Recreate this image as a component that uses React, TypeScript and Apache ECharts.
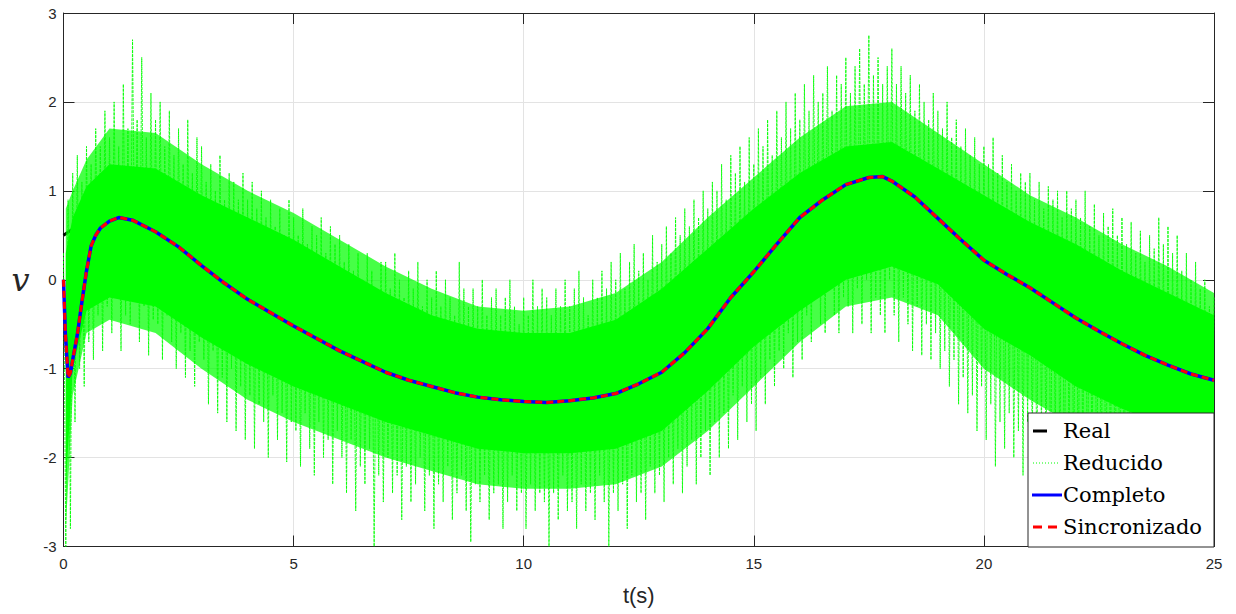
import React, { useEffect, useRef } from "react";
import * as echarts from "echarts";

// ---- data ----
const xTicks = [0, 5, 10, 15, 20, 25];
const yTicks = [-3, -2, -1, 0, 1, 2, 3];

const curveT = [0, 0.04, 0.1, 0.15, 0.2, 0.3, 0.4, 0.5, 0.6, 0.7, 0.8, 1.0, 1.2, 1.5, 2.0, 2.5, 3.0, 3.5, 4.0, 4.5, 5.0, 5.5, 6.0, 6.5, 7.0, 7.5, 8.0, 8.5, 9.0, 9.5, 10.0, 10.5, 11.0, 11.5, 12.0, 12.5, 13.0, 13.5, 14.0, 14.5, 15.0, 15.5, 16.0, 16.5, 17.0, 17.5, 17.8, 18.0, 18.5, 19.0, 19.5, 20.0, 20.5, 21.0, 21.5, 22.0, 22.5, 23.0, 23.5, 24.0, 24.5, 25.0];
const completoV = [0, -0.6, -1.1, -1.05, -0.9, -0.62, -0.25, 0.1, 0.38, 0.5, 0.58, 0.66, 0.7, 0.67, 0.54, 0.37, 0.16, -0.04, -0.22, -0.37, -0.52, -0.66, -0.8, -0.92, -1.04, -1.13, -1.2, -1.27, -1.32, -1.35, -1.37, -1.38, -1.36, -1.33, -1.28, -1.17, -1.04, -0.82, -0.55, -0.2, 0.09, 0.4, 0.7, 0.9, 1.07, 1.15, 1.16, 1.11, 0.93, 0.69, 0.45, 0.22, 0.06, -0.09, -0.26, -0.43, -0.58, -0.72, -0.85, -0.96, -1.06, -1.13];
const sincronizadoV = [0, -0.6, -1.1, -1.05, -0.9, -0.62, -0.25, 0.1, 0.38, 0.5, 0.58, 0.66, 0.7, 0.67, 0.54, 0.37, 0.16, -0.04, -0.22, -0.37, -0.52, -0.66, -0.8, -0.92, -1.04, -1.13, -1.2, -1.27, -1.32, -1.35, -1.37, -1.38, -1.36, -1.33, -1.28, -1.17, -1.04, -0.82, -0.55, -0.2, 0.09, 0.4, 0.7, 0.9, 1.07, 1.15, 1.16, 1.11, 0.93, 0.69, 0.45, 0.22, 0.06, -0.09, -0.26, -0.43, -0.58, -0.72, -0.85, -0.96, -1.06, -1.13];

const realT = [0, 0.2, 0.5, 0.8, 1.2, 1.5, 2.0, 3.0, 4.0, 5.0, 6.0, 7.0, 8.0, 9.0, 10.0, 11.0, 12.0, 13.0, 14.0, 15.0, 16.0, 17.0, 17.8, 19.0, 20.0, 21.0, 22.0, 23.0, 24.0, 25.0];
const realV = [0.5, 0.57, 0.63, 0.67, 0.7, 0.67, 0.54, 0.16, -0.22, -0.52, -0.8, -1.04, -1.2, -1.32, -1.37, -1.36, -1.28, -1.04, -0.55, 0.09, 0.7, 1.07, 1.16, 0.69, 0.22, -0.09, -0.43, -0.72, -0.96, -1.13];

// "Reducido": noisy measurement, sampled every 0.05 s (one row = 1 s)
const reducidoStep = 0.05;
const reducidoV = [
  0.3, -3.0, 0.9, -2.8, 1.2, -1.6, 1.4, -1.0, 1.1, -1.2, 1.5, -0.7, 1.3, -0.9, 1.7, -0.4, 1.5, -0.8, 1.9, -0.3,
  1.6, -0.6, 2.0, -0.2, 1.5, -0.8, 2.2, -0.4, 1.7, -0.5, 2.7, -0.1, 1.8, -0.7, 2.5, -0.3, 1.6, -0.85, 2.1, -0.45,
  1.8, -0.5, 2.0, -0.9, 1.5, -0.4, 1.9, -0.7, 1.4, -1.0, 1.7, -0.6, 1.3, -1.1, 1.8, -0.8, 1.2, -1.2, 1.6, -0.7,
  1.5, -0.9, 1.1, -1.4, 1.3, -0.8, 1.0, -1.5, 1.4, -1.1, 0.9, -1.6, 1.2, -1.0, 1.1, -1.7, 0.9, -1.2, 1.2, -1.8,
  0.9, -1.3, 1.1, -1.9, 0.8, -1.4, 1.0, -1.6, 0.7, -2.0, 0.9, -1.3, 0.6, -1.8, 0.8, -1.5, 0.5, -2.05, 0.9, -1.6,
  0.7, -1.7, 0.5, -2.1, 0.8, -1.5, 0.4, -1.9, 0.6, -2.2, 0.5, -1.6, 0.7, -2.0, 0.3, -1.8, 0.6, -2.3, 0.4, -1.7,
  0.5, -2.0, 0.2, -2.4, 0.4, -1.8, 0.1, -2.6, 0.3, -2.1, 0.0, -2.3, 0.3, -1.9, 0.1, -3.0, -0.1, -2.2, 0.2, -2.5,
  0.2, -2.0, -0.1, -2.4, 0.3, -2.2, 0.0, -2.7, -0.2, -2.1, 0.1, -2.5, -0.1, -2.3, 0.2, -2.0, -0.3, -2.6, 0.0, -2.2,
  -0.2, -2.8, 0.1, -2.3, -0.3, -2.5, 0.0, -2.1, -0.2, -2.7, -0.4, -2.4, 0.2, -2.2, -0.1, -2.6, -0.3, -2.95, -0.1, -2.3,
  -0.3, -2.5, 0.0, -2.2, -0.4, -2.7, -0.2, -2.4, -0.1, -2.3, -0.4, -2.8, -0.2, -2.5, 0.0, -2.2, -0.3, -2.6, -0.5, -2.4,
  -0.2, -2.8, -0.4, -2.3, 0.0, -2.6, -0.3, -2.4, -0.1, -2.5, -0.2, -3.0, -0.4, -2.4, -0.1, -2.7, -0.3, -2.2, 0.0, -2.6,
  -0.3, -2.5, -0.1, -2.8, 0.1, -2.3, -0.2, -2.6, -0.4, -2.4, 0.0, -2.7, -0.2, -2.2, 0.1, -2.5, -0.1, -3.0, 0.2, -2.4,
  0.0, -2.6, 0.3, -2.3, -0.1, -2.8, 0.2, -2.2, 0.4, -2.5, 0.1, -2.4, 0.3, -2.7, 0.0, -2.1, 0.5, -2.4, 0.2, -2.2,
  0.4, -2.5, 0.6, -2.0, 0.3, -2.3, 0.7, -1.9, 0.5, -2.4, 0.8, -2.1, 0.6, -1.8, 0.9, -2.3, 0.7, -2.0, 1.0, -1.7,
  0.8, -2.2, 1.1, -1.6, 1.0, -2.0, 1.3, -1.5, 0.9, -1.9, 1.4, -1.3, 1.2, -1.8, 1.5, -1.2, 1.1, -1.6, 1.6, -1.4,
  1.3, -1.7, 1.7, -1.1, 1.5, -1.4, 1.8, -0.9, 1.4, -1.2, 1.9, -0.8, 1.6, -1.0, 2.0, -0.6, 1.7, -1.1, 2.1, -0.7,
  1.8, -0.9, 2.2, -0.4, 1.9, -0.7, 2.3, -0.2, 2.0, -0.5, 2.1, -0.6, 2.4, -0.1, 1.9, -0.4, 2.3, -0.6, 2.2, -0.2,
  2.5, -0.3, 2.1, -0.6, 2.4, -0.1, 2.6, -0.5, 2.2, 0.0, 2.75, -0.6, 2.3, -0.2, 2.5, -0.4, 2.2, -0.6, 2.4, 0.0,
  2.6, -0.4, 2.2, -0.7, 2.4, -0.2, 2.1, -0.5, 2.3, -0.8, 1.9, -0.3, 2.2, -0.85, 2.0, -0.5, 1.8, -0.9, 2.1, -0.6,
  1.9, -1.0, 1.7, -0.8, 2.0, -1.2, 1.6, -0.9, 1.8, -1.4, 1.5, -1.1, 1.7, -1.5, 1.4, -1.3, 1.6, -1.7, 1.3, -1.2,
  1.5, -1.8, 1.3, -1.4, 1.6, -2.1, 1.2, -1.6, 1.4, -1.9, 1.1, -1.5, 1.3, -2.0, 1.0, -1.7, 1.2, -2.2, 1.1, -1.6,
  1.2, -1.9, 0.9, -2.2, 1.1, -1.7, 0.8, -2.0, 1.05, -2.3, 0.9, -1.8, 1.0, -2.1, 0.7, -2.4, 1.0, -1.9, 0.8, -2.2,
  0.9, -2.3, 0.7, -2.0, 1.0, -2.5, 0.6, -2.1, 0.85, -2.4, 0.5, -2.2, 0.75, -2.6, 0.6, -2.1, 0.8, -2.4, 0.5, -2.3,
  0.7, -2.2, 0.4, -2.6, 0.65, -2.3, 0.3, -2.5, 0.55, -2.1, 0.2, -2.7, 0.5, -2.3, 0.35, -2.5, 0.7, -2.2, 0.4, -2.6,
  0.6, -2.4, 0.3, -2.6, 0.5, -2.2, 0.1, -2.5, 0.3, -2.7, 0.0, -2.3, 0.2, -2.5, -0.1, -2.4, 0.0, -2.6, -0.3, -2.3,
  -0.2,
];

// envelopes of the "Reducido" cloud: solid core and the half-dense fringe around it
const cloudT = [0.05, 0.2, 0.5, 1, 2, 3, 4, 5, 6, 7, 8, 9, 10, 11, 12, 13, 14, 15, 16, 17, 18, 19, 20, 21, 22, 23, 24, 25];
const coreUpper = [0.3, 0.7, 1.05, 1.3, 1.25, 0.95, 0.7, 0.45, 0.15, -0.15, -0.4, -0.55, -0.6, -0.6, -0.45, -0.1, 0.35, 0.8, 1.2, 1.5, 1.55, 1.25, 0.95, 0.65, 0.4, 0.1, -0.15, -0.4];
const coreLower = [-2.3, -1.0, -0.35, -0.2, -0.3, -0.65, -0.95, -1.2, -1.4, -1.6, -1.75, -1.9, -1.95, -1.95, -1.9, -1.7, -1.25, -0.75, -0.35, 0.0, 0.15, -0.05, -0.55, -0.85, -1.2, -1.45, -1.65, -1.8];
const fringeUpper = [0.8, 1.0, 1.35, 1.7, 1.65, 1.3, 1.0, 0.75, 0.45, 0.15, -0.1, -0.3, -0.35, -0.3, -0.15, 0.2, 0.7, 1.15, 1.6, 1.95, 2.0, 1.65, 1.3, 0.95, 0.7, 0.4, 0.15, -0.15];
const fringeLower = [-2.8, -1.3, -0.6, -0.45, -0.6, -1.0, -1.35, -1.6, -1.8, -2.0, -2.15, -2.3, -2.35, -2.35, -2.3, -2.1, -1.7, -1.2, -0.7, -0.3, -0.2, -0.4, -1.0, -1.35, -1.65, -1.85, -2.0, -2.1];

const legendNames = ["Real", "Reducido", "Completo", "Sincronizado"];

export default function App() {
  const ref = useRef<HTMLDivElement>(null);

  useEffect(() => {
    if (!ref.current) return;
    const chart = echarts.init(ref.current, null, { renderer: "svg" });

    const pairs = (t: number[], v: number[]) => t.map((x, i) => [x, v[i]]);
    const reducido = reducidoV.map((v, i) => [Number((i * reducidoStep).toFixed(2)), v]);
    const coreData = cloudT.map((x, i) => [x, coreLower[i], coreUpper[i]]);
    const fringeData = cloudT.map((x, i) => [x, fringeLower[i], fringeUpper[i]]);

    const bandSeries = (name: string, data: number[][], opacity: number, z: number) => ({
      name, type: "custom", data, z, silent: true,
      encode: { x: 0, y: [1, 2] },
      renderItem: (params: any, api: any) => {
        if (params.dataIndex !== 0) return null;
        const top = data.map((d) => api.coord([d[0], d[2]]));
        const bottom = data.slice().reverse().map((d) => api.coord([d[0], d[1]]));
        return {
          type: "polygon",
          shape: { points: top.concat(bottom) },
          style: { fill: "#00ff00", opacity, stroke: "none" },
        };
      },
    });

    const axisColor = "#262626";
    const gridColor = "#e3e3e3";
    const labelFont = { fontFamily: "Liberation Sans, Arial, sans-serif", fontSize: 15, color: axisColor };

    const legendX = 1028, legendY = 413, legendW = 186, legendH = 134;
    const rowY = [431, 463, 495, 527];
    const legendFont = "21px 'DejaVu Serif', serif";
    const LZ = 200;

    chart.setOption({
      animation: false,
      backgroundColor: "#ffffff",
      grid: { left: 63.5, right: 22, top: 13, bottom: 67.5, show: false },
      xAxis: [
        {
          type: "value", min: xTicks[0], max: xTicks[xTicks.length - 1], interval: 5,
          axisLine: { show: true, onZero: false, lineStyle: { color: axisColor, width: 1 } },
          axisTick: { show: true, inside: true, length: 11, lineStyle: { color: axisColor } },
          splitLine: { show: true, lineStyle: { color: gridColor, width: 1 } },
          axisLabel: { ...labelFont, margin: 9 },
          name: "t(s)", nameLocation: "middle", nameGap: 38,
          nameTextStyle: { fontFamily: "Liberation Sans, Arial, sans-serif", fontSize: 22, color: axisColor },
        },
        {
          type: "value", position: "top", min: 0, max: 25, interval: 5,
          axisLine: { show: true, onZero: false, lineStyle: { color: axisColor, width: 1 } },
          axisTick: { show: true, inside: true, length: 11, lineStyle: { color: axisColor } },
          splitLine: { show: false }, axisLabel: { show: false },
        },
      ],
      yAxis: [
        {
          type: "value", min: yTicks[0], max: yTicks[yTicks.length - 1], interval: 1,
          axisLine: { show: true, onZero: false, lineStyle: { color: axisColor, width: 1 } },
          axisTick: { show: true, inside: true, length: 11, lineStyle: { color: axisColor } },
          splitLine: { show: true, lineStyle: { color: gridColor, width: 1 } },
          axisLabel: { ...labelFont, margin: 7 },
          name: "v", nameLocation: "middle", nameRotate: 0, nameGap: 34,
          nameTextStyle: { fontFamily: "DejaVu Serif, serif", fontStyle: "italic", fontSize: 32, color: axisColor },
        },
        {
          type: "value", position: "right", min: -3, max: 3, interval: 1,
          axisLine: { show: true, onZero: false, lineStyle: { color: axisColor, width: 1 } },
          axisTick: { show: true, inside: true, length: 11, lineStyle: { color: axisColor } },
          splitLine: { show: false }, axisLabel: { show: false },
        },
      ],
      series: [
        {
          name: "Real", type: "line", data: pairs(realT, realV), symbol: "none",
          lineStyle: { color: "#000000", width: 3, type: [10, 5] }, z: 2,
        },
        bandSeries("Reducido-fringe", fringeData, 0.72, 3),
        {
          name: "Reducido", type: "line", data: reducido, symbol: "none",
          lineStyle: { color: "#00ff00", width: 1, opacity: 0.85, type: [3, 1] }, z: 4,
        },
        bandSeries("Reducido-core", coreData, 1, 4),
        {
          name: "Completo", type: "line", data: pairs(curveT, completoV), symbol: "none",
          lineStyle: { color: "#0000ff", width: 3.5 }, z: 5,
        },
        {
          name: "Sincronizado", type: "line", data: pairs(curveT, sincronizadoV), symbol: "none",
          lineStyle: { color: "#ff0000", width: 3, type: [7, 4] }, z: 6,
        },
      ],
      graphic: [
        { type: "rect", z: LZ, shape: { x: legendX, y: legendY, width: legendW, height: legendH },
          style: { fill: "#ffffff", stroke: axisColor, lineWidth: 1 } },
        { type: "line", z: LZ + 1, shape: { x1: 1033, y1: rowY[0], x2: 1047, y2: rowY[0] }, style: { stroke: "#000000", lineWidth: 3 } },
        { type: "line", z: LZ + 1, shape: { x1: 1033, y1: rowY[1], x2: 1058, y2: rowY[1] }, style: { stroke: "#00ff00", lineWidth: 1, lineDash: [1, 2] } },
        { type: "line", z: LZ + 1, shape: { x1: 1032, y1: rowY[2], x2: 1062, y2: rowY[2] }, style: { stroke: "#0000ff", lineWidth: 3 } },
        { type: "line", z: LZ + 1, shape: { x1: 1033, y1: rowY[3], x2: 1058, y2: rowY[3] }, style: { stroke: "#ff0000", lineWidth: 3, lineDash: [9, 6] } },
        ...legendNames.map((n, i) => ({
          type: "text", z: LZ + 1, x: 1063, y: rowY[i],
          style: { text: n, font: legendFont, fill: "#000000", textVerticalAlign: "middle", verticalAlign: "middle" },
        })),
      ],
    });

    return () => chart.dispose();
  }, []);

  return (
    <div
      ref={ref}
      style={{ position: "fixed", left: 0, top: 0, width: 1236, height: 614, background: "#fff" }}
    />
  );
}
